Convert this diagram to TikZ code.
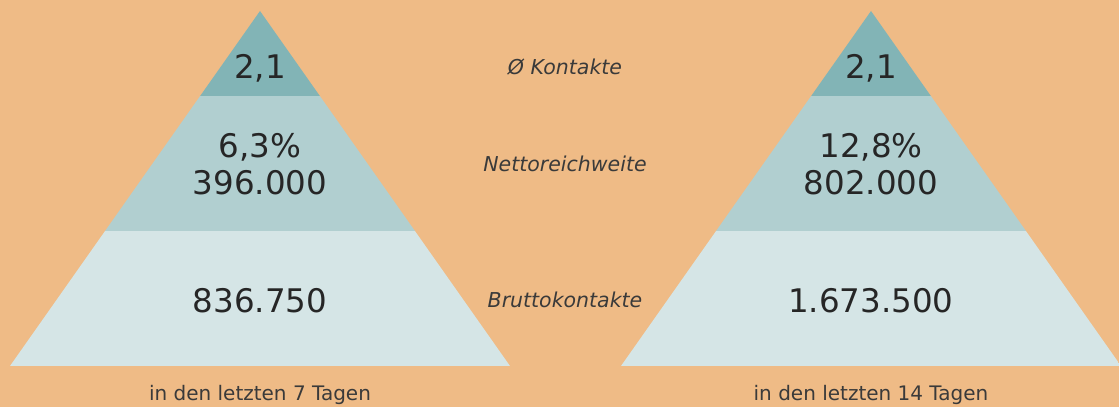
\documentclass[tikz,border=0pt]{standalone}
\usepackage{fontspec}
\setmainfont{DejaVu Sans}
\definecolor{sandbg}{HTML}{EFBB86}
\definecolor{bandtop}{HTML}{82B4B6}
\definecolor{bandmid}{HTML}{B1CFD0}
\definecolor{bandlow}{HTML}{D5E5E6}
\definecolor{numink}{HTML}{262626}
\definecolor{labelink}{HTML}{3A3A3A}

\begin{document}
\begin{tikzpicture}[x=1pt, y=1pt,
    numtext/.style={text=numink, anchor=base, align=center, font=\fontsize{32.5}{37}\selectfont},
    rowlabel/.style={text=labelink, anchor=base, font=\fontsize{20.5}{24}\selectfont\itshape},
    period/.style={text=labelink, anchor=base, font=\fontsize{20}{24}\selectfont}]
    \clip (0,0) rectangle (1119,407);
    \fill[sandbg] (0,0) rectangle (1119,407);
    % 7 Tage
    \begin{scope}
      \clip (10,41) -- (260,396) -- (510,41) -- cycle;
      \fill[bandlow] (0,41) rectangle (520,176);
      \fill[bandmid] (0,176) rectangle (520,311);
      \fill[bandtop] (0,311) rectangle (520,400);
    \end{scope}
    \node[numtext] (schnitt7) at (260,328) {2,1};
    \node[numtext, anchor=center] (netto7) at (260,243) {6,3\%\\396.000};
    \node[numtext] (brutto7) at (260,94) {836.750};
    \node[period] (tage7) at (260,7) {in den letzten 7 Tagen};
    % 14 Tage
    \begin{scope}[xshift=611]
      \clip (10,41) -- (260,396) -- (510,41) -- cycle;
      \fill[bandlow] (0,41) rectangle (520,176);
      \fill[bandmid] (0,176) rectangle (520,311);
      \fill[bandtop] (0,311) rectangle (520,400);
    \end{scope}
    \node[numtext] (schnitt14) at (871,328) {2,1};
    \node[numtext, anchor=center] (netto14) at (871,243) {12,8\%\\802.000};
    \node[numtext] (brutto14) at (871,94) {1.673.500};
    \node[period] (tage14) at (871,7) {in den letzten 14 Tagen};
    % Beschriftung Mitte
    \node[rowlabel] (kontakte) at (565,332) {Ø Kontakte};
    \node[rowlabel] (reichweite) at (565,235) {Nettoreichweite};
    \node[rowlabel] (bruttolabel) at (565,99) {Bruttokontakte};
\end{tikzpicture}
\end{document}
